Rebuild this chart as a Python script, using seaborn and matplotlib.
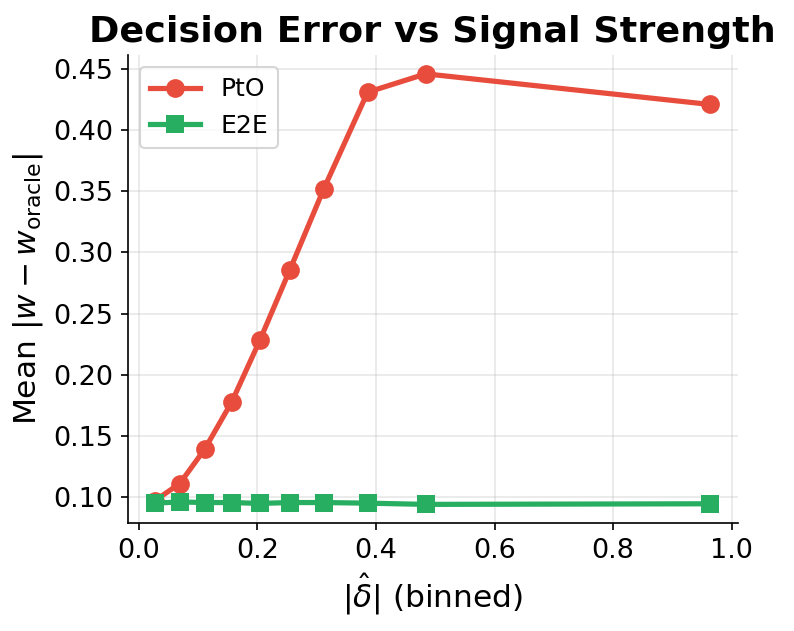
import numpy as np
import pandas as pd
import matplotlib
matplotlib.use("Agg")
import matplotlib.pyplot as plt
import seaborn as sns

# dati
delta_bin = [0.027, 0.069, 0.111, 0.157, 0.204, 0.255, 0.312, 0.386, 0.484, 0.963]
err_pto   = [0.097, 0.111, 0.139, 0.178, 0.228, 0.286, 0.352, 0.431, 0.446, 0.421]
err_e2e   = [0.095, 0.096, 0.0955, 0.0955, 0.0948, 0.0955, 0.0955, 0.095, 0.094, 0.0945]

# stile matplotlib di base (testo nero), seaborn solo per il disegno
plt.rcParams["font.family"] = ["DejaVu Sans"]

fig, ax = plt.subplots(figsize=(794 / 150, 631 / 150), dpi=150)

sns.lineplot(x=delta_bin, y=err_pto, marker="o", markersize=9, linewidth=2.5,
             color="#E74C3C", markeredgewidth=0, label="PtO", ax=ax)
sns.lineplot(x=delta_bin, y=err_e2e, marker="s", markersize=9, linewidth=2.5,
             color="#27AE60", markeredgewidth=0, label="E2E", ax=ax)

ax.set_title("Decision Error vs Signal Strength", fontsize=17.5, fontweight="bold")
ax.set_xlabel(r"$|\hat{\delta}|$ (binned)", fontsize=15)
ax.set_ylabel(r"Mean $|w - w_{\mathrm{oracle}}|$", fontsize=15)
ax.tick_params(labelsize=13)
ax.set_xlim(-0.0185, 1.01)
ax.set_ylim(0.0787, 0.4615)
ax.set_xticks([0.0, 0.2, 0.4, 0.6, 0.8, 1.0])
ax.grid(True, alpha=0.3)
sns.despine(ax=ax)
ax.legend(loc="upper left", fontsize=12)

fig.subplots_adjust(left=0.161, right=0.929, top=0.913, bottom=0.171)
plt.savefig("out.png", dpi=150)
plt.close()
